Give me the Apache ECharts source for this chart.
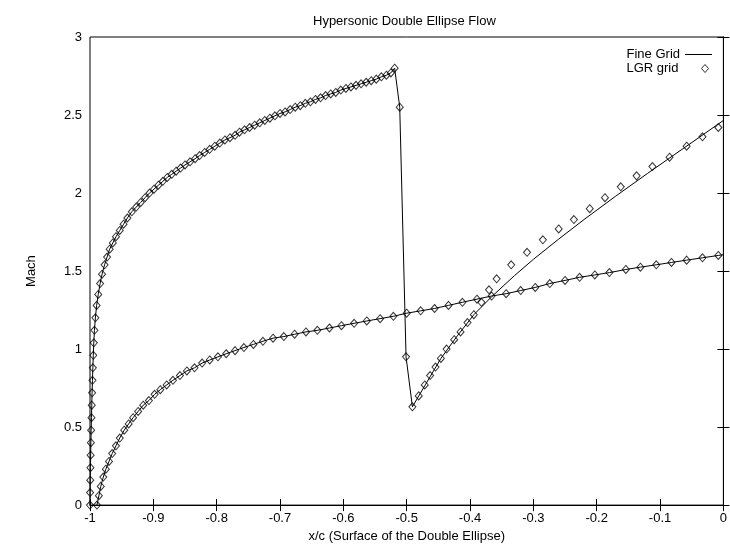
<!DOCTYPE html>
<html>
<head>
<meta charset="utf-8">
<script src="https://cdn.jsdelivr.net/npm/echarts@6/dist/echarts.min.js"></script>
<style>
  html, body { margin: 0; padding: 0; background: #fff; }
  #chart { width: 730px; height: 548px; }
</style>
</head>
<body>
<div id="chart"></div>
<script>
// upper surface: leading edge up to the shock (fine grid and LGR agree here)
const upperX = [-1.000, -0.9998, -0.9996, -0.9993, -0.999, -0.9986, -0.9982, -0.9977, -0.9972, -0.9967,
  -0.9961, -0.9955, -0.9948, -0.994, -0.993, -0.9915, -0.9895, -0.987, -0.984, -0.981,
  -0.977, -0.973, -0.969, -0.964, -0.959, -0.953, -0.947, -0.941, -0.934, -0.927,
  -0.920, -0.913, -0.906, -0.899, -0.892, -0.885, -0.878, -0.871, -0.864, -0.857,
  -0.850, -0.842, -0.834, -0.827, -0.819, -0.811, -0.803, -0.795, -0.787, -0.779,
  -0.771, -0.764, -0.756, -0.748, -0.740, -0.732, -0.724, -0.716, -0.708, -0.700,
  -0.692, -0.684, -0.676, -0.668, -0.660, -0.652, -0.644, -0.636, -0.628, -0.620,
  -0.612, -0.604, -0.596, -0.588, -0.580, -0.572, -0.564, -0.556, -0.548, -0.540,
  -0.532, -0.525, -0.519, -0.511, -0.501, -0.491]
const upperY = [0, 0.08, 0.16, 0.24, 0.32, 0.40, 0.48, 0.56, 0.64, 0.72,
  0.80, 0.88, 0.96, 1.04, 1.12, 1.20, 1.28, 1.35, 1.42, 1.48,
  1.54, 1.59, 1.64, 1.68, 1.72, 1.76, 1.80, 1.84, 1.88, 1.91,
  1.94, 1.97, 2.00, 2.025, 2.05, 2.075, 2.10, 2.12, 2.14, 2.16,
  2.18, 2.20, 2.22, 2.24, 2.26, 2.28, 2.30, 2.32, 2.34, 2.355,
  2.37, 2.39, 2.405, 2.42, 2.435, 2.45, 2.465, 2.48, 2.495, 2.51,
  2.52, 2.535, 2.55, 2.56, 2.575, 2.585, 2.60, 2.61, 2.625, 2.635,
  2.645, 2.66, 2.67, 2.68, 2.69, 2.70, 2.71, 2.72, 2.73, 2.745,
  2.755, 2.77, 2.80, 2.55, 0.95, 0.63]

// recovery behind the shock
const recoverFineX = [-0.47, -0.446, -0.42, -0.394, -0.366, -0.33, -0.30, -0.26, -0.22, -0.17, -0.12, -0.06, 0]
const recoverFineY = [0.775, 0.94, 1.085, 1.22, 1.335, 1.47, 1.575, 1.705, 1.83, 1.98, 2.125, 2.295, 2.465]
const recoverLgrX = [-0.481, -0.4715, -0.463, -0.4545, -0.446, -0.437, -0.425, -0.415, -0.404, -0.394,
  -0.382, -0.370, -0.358, -0.335, -0.310, -0.285, -0.260, -0.236, -0.211, -0.187,
  -0.162, -0.137, -0.112, -0.085, -0.058, -0.033, -0.008]
const recoverLgrY = [0.70, 0.77, 0.83, 0.885, 0.94, 1.00, 1.06, 1.11, 1.17, 1.22,
  1.30, 1.38, 1.45, 1.54, 1.62, 1.70, 1.77, 1.83, 1.90, 1.97,
  2.04, 2.11, 2.17, 2.23, 2.30, 2.36, 2.42]

// lower surface
const lowerX = [-0.989, -0.986, -0.983, -0.979, -0.975, -0.970, -0.965, -0.959, -0.953, -0.946,
  -0.939, -0.932, -0.924, -0.916, -0.907, -0.898, -0.889, -0.879, -0.869, -0.858,
  -0.847, -0.835, -0.823, -0.811, -0.798, -0.785, -0.771, -0.757, -0.742, -0.727,
  -0.711, -0.694, -0.677, -0.659, -0.641, -0.622, -0.603, -0.583, -0.563, -0.542,
  -0.521, -0.500, -0.478, -0.456, -0.434, -0.412, -0.389, -0.366, -0.343, -0.320,
  -0.297, -0.274, -0.250, -0.227, -0.203, -0.180, -0.154, -0.131, -0.106, -0.082,
  -0.058, -0.033, -0.008]
const lowerY = [0, 0.06, 0.12, 0.18, 0.23, 0.28, 0.33, 0.38, 0.43, 0.48,
  0.52, 0.56, 0.60, 0.64, 0.67, 0.71, 0.74, 0.77, 0.80, 0.83,
  0.86, 0.88, 0.91, 0.93, 0.95, 0.97, 0.99, 1.01, 1.03, 1.05,
  1.07, 1.08, 1.095, 1.11, 1.12, 1.135, 1.15, 1.165, 1.18, 1.195,
  1.21, 1.23, 1.245, 1.26, 1.28, 1.30, 1.32, 1.34, 1.355, 1.375,
  1.395, 1.42, 1.44, 1.46, 1.475, 1.49, 1.51, 1.525, 1.54, 1.555,
  1.57, 1.585, 1.60]
const lowerEndX = [0]
const lowerEndY = [1.605]

const xTicks = { min: -1, max: 0, interval: 0.1 }
const yTicks = { min: 0, max: 3, interval: 0.5 }

const pts = (xs, ys) => xs.map((x, i) => [x, ys[i]])

const chart = echarts.init(document.getElementById('chart'))
const font = 'Liberation Sans, Arial, sans-serif'
const tickStyle = { show: true, inside: true, length: 6, lineStyle: { color: '#000' } }
const legendText = { fontFamily: font, fontSize: 13, color: '#000' }

const diamond = {
  type: 'scatter',
  name: 'LGR grid',
  symbol: 'diamond',
  symbolSize: [7, 8],
  itemStyle: { color: 'rgba(255,255,255,0)', borderColor: '#000', borderWidth: 1 },
  z: 3
}
const fine = {
  type: 'line',
  name: 'Fine Grid',
  symbol: 'none',
  lineStyle: { color: '#000', width: 1 },
  itemStyle: { color: '#000' },
  z: 2
}

chart.setOption({
  animation: false,
  backgroundColor: '#fff',
  textStyle: { fontFamily: font, color: '#000' },
  title: {
    text: 'Hypersonic Double Ellipse Flow',
    left: 308,
    top: 10,
    textStyle: { fontFamily: font, fontSize: 13, fontWeight: 'normal', color: '#000' }
  },
  legend: [
    {
      right: 13,
      top: 43,
      align: 'right',
      itemWidth: 27,
      itemHeight: 1,
      textStyle: legendText,
      data: [{ name: 'Fine Grid', icon: 'rect', itemStyle: { color: '#000', borderWidth: 0 } }]
    },
    {
      right: 16,
      top: 57,
      align: 'right',
      itemWidth: 7,
      itemHeight: 8,
      textStyle: legendText,
      formatter: '{name}     ',
      data: [{ name: 'LGR grid', icon: 'diamond', itemStyle: { color: 'rgba(255,255,255,0)', borderColor: '#000', borderWidth: 1 } }]
    }
  ],
  grid: { left: 90, right: 4, top: 37, bottom: 36, show: true, borderColor: '#000', borderWidth: 1 },
  xAxis: [
    {
      type: 'value', ...xTicks,
      name: 'x/c (Surface of the Double Ellipse)',
      nameLocation: 'middle',
      nameGap: 23,
      nameTextStyle: { fontFamily: font, fontSize: 13, color: '#000' },
      axisLine: { lineStyle: { color: '#000' } },
      axisTick: tickStyle,
      axisLabel: { fontFamily: font, fontSize: 13, color: '#000', margin: 7 },
      splitLine: { show: false }
    },
    {
      type: 'value', ...xTicks, position: 'top',
      axisLine: { lineStyle: { color: '#000' } },
      axisTick: tickStyle,
      axisLabel: { show: false },
      splitLine: { show: false }
    }
  ],
  yAxis: [
    {
      type: 'value', ...yTicks,
      name: 'Mach',
      nameLocation: 'middle',
      nameGap: 52,
      nameTextStyle: { fontFamily: font, fontSize: 13, color: '#000' },
      axisLine: { lineStyle: { color: '#000' } },
      axisTick: tickStyle,
      axisLabel: { fontFamily: font, fontSize: 13, color: '#000', margin: 8 },
      splitLine: { show: false }
    },
    {
      type: 'value', ...yTicks, position: 'right',
      axisLine: { lineStyle: { color: '#000' } },
      axisTick: tickStyle,
      axisLabel: { show: false },
      splitLine: { show: false }
    }
  ],
  series: [
    { ...fine, data: pts(upperX, upperY).concat(pts(recoverFineX, recoverFineY)) },
    { ...fine, data: pts(lowerX, lowerY).concat(pts(lowerEndX, lowerEndY)) },
    { ...diamond, data: pts(upperX, upperY).concat(pts(recoverLgrX, recoverLgrY)) },
    { ...diamond, data: pts(lowerX, lowerY) }
  ]
})
</script>
</body>
</html>
